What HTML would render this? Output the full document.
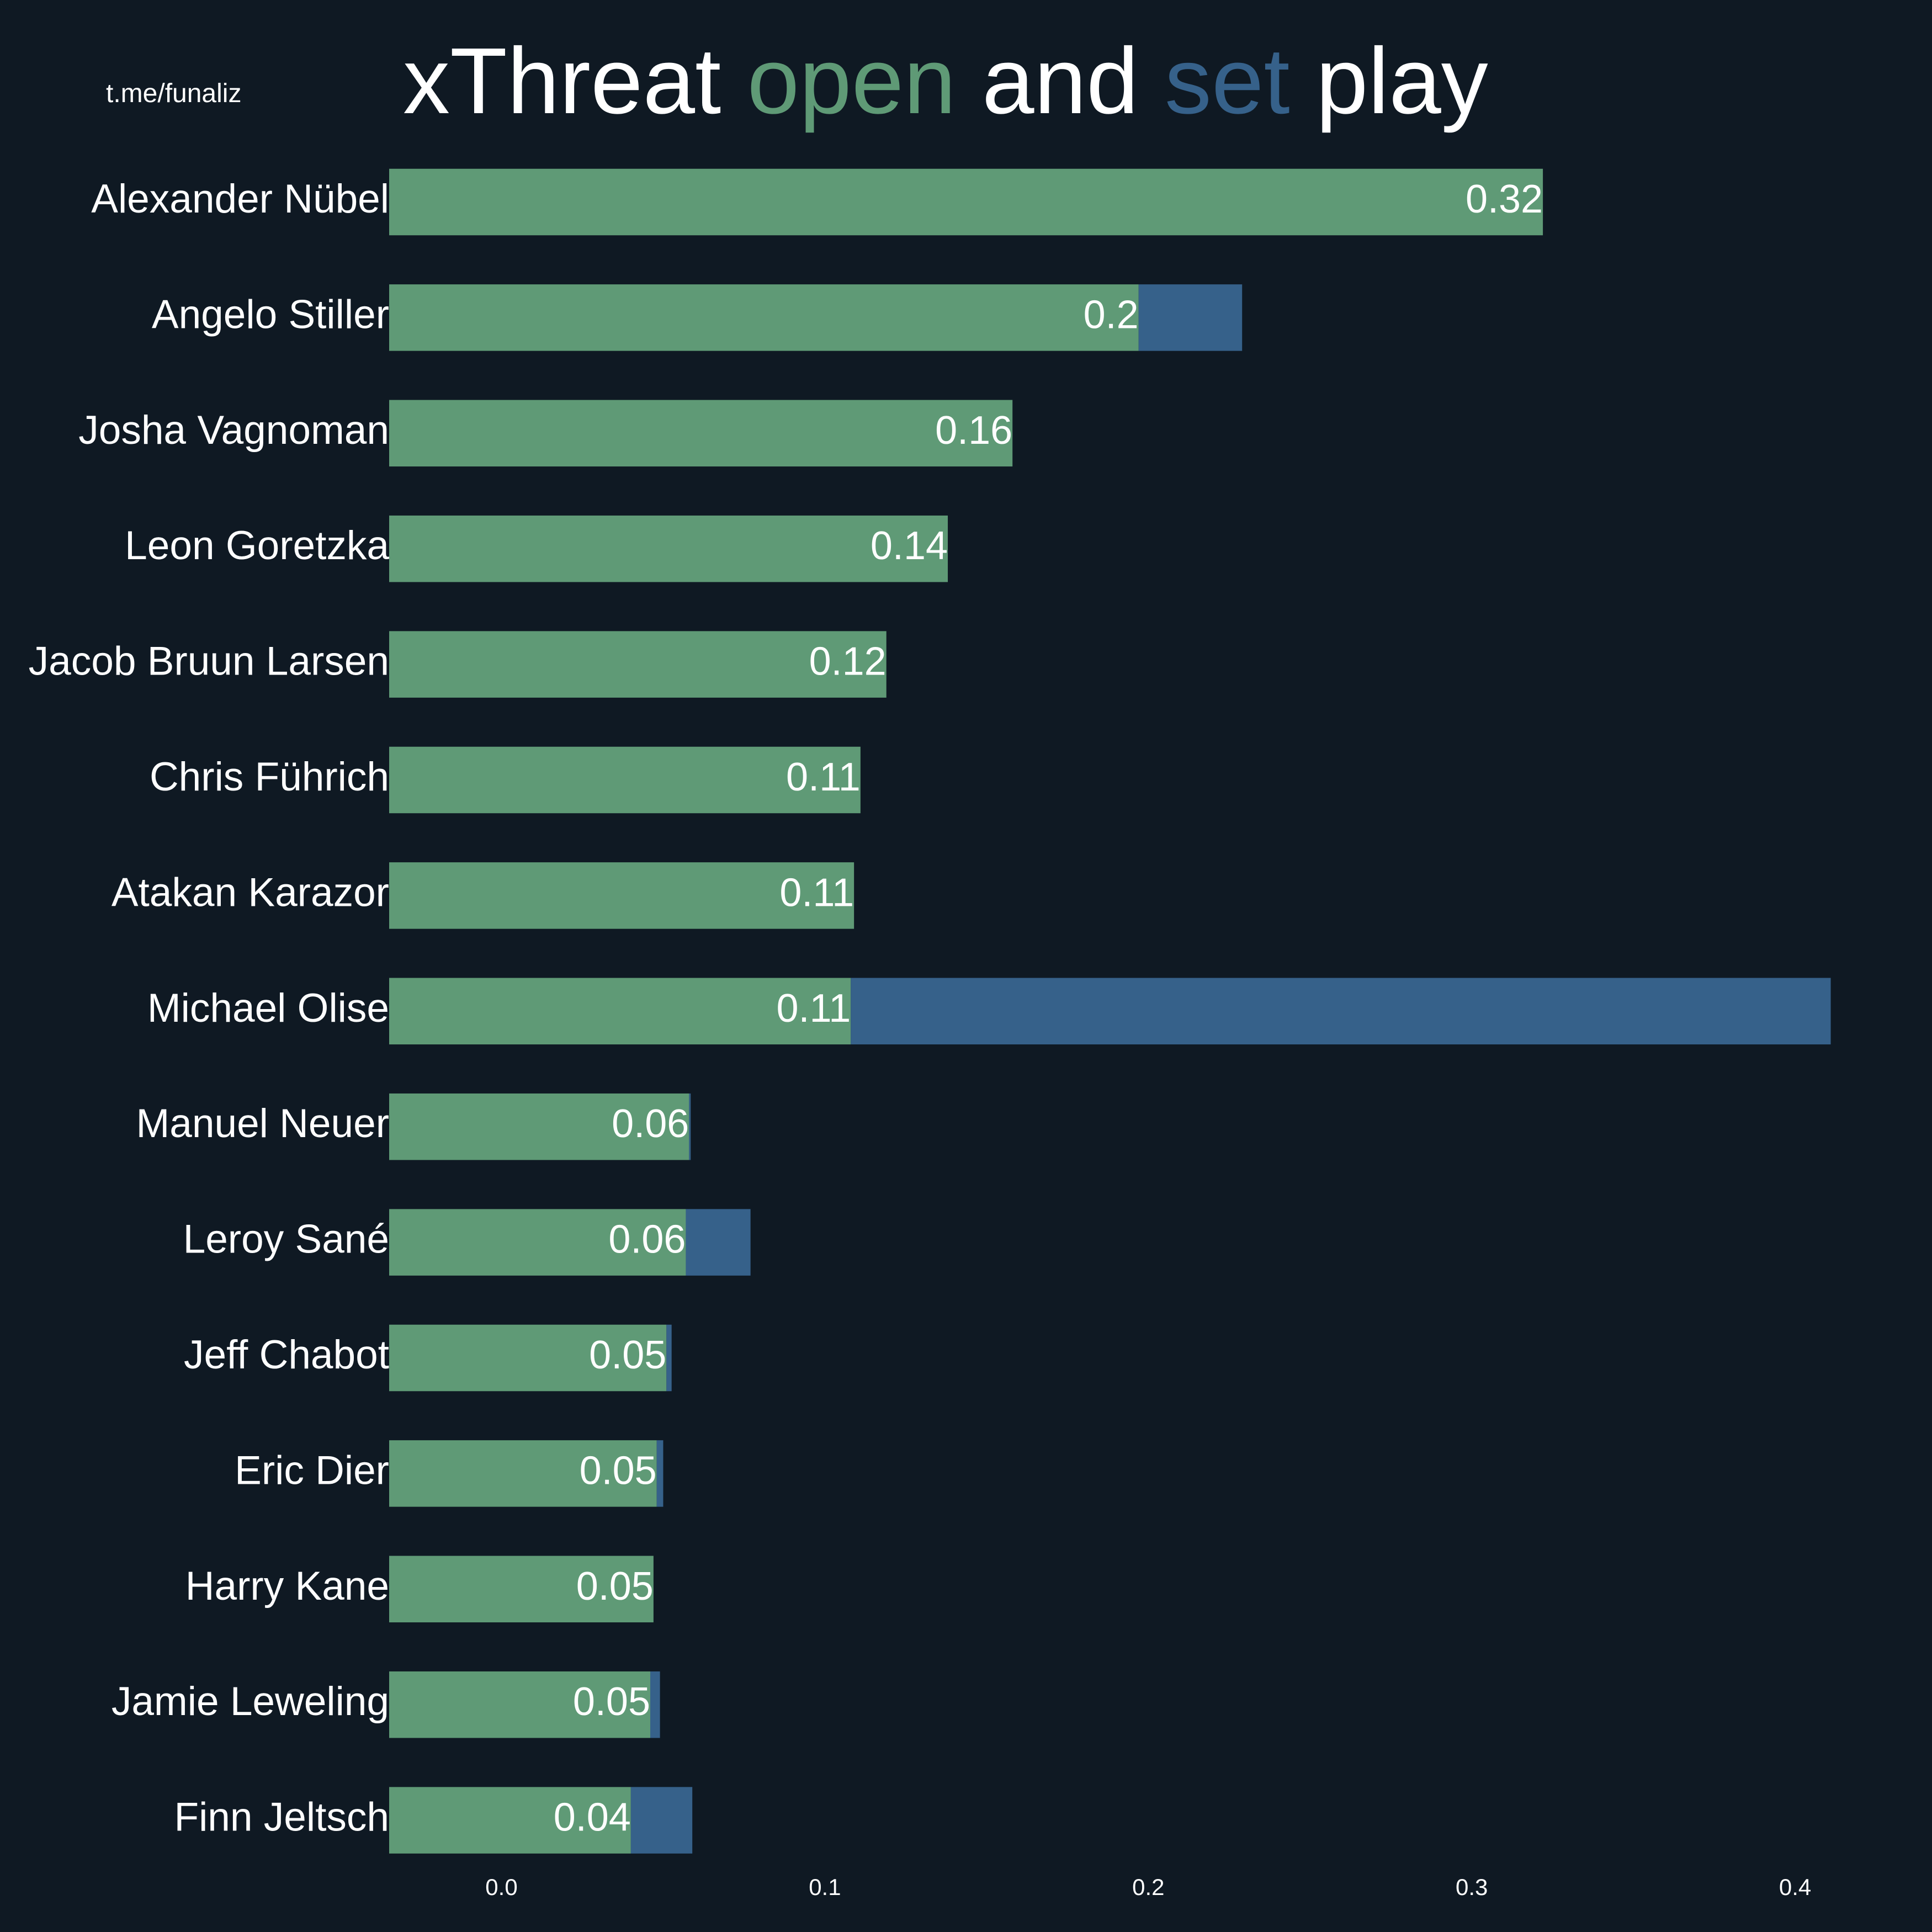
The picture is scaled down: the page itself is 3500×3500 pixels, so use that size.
<!DOCTYPE html>
<html><head><meta charset="utf-8">
<style>
html,body{margin:0;padding:0;background:#0f1923;}
svg{display:block;font-family:"Liberation Sans",Arial,sans-serif;}
</style></head>
<body>
<svg id="chart" width="3500" height="3500" viewBox="0 0 3500 3500" xmlns="http://www.w3.org/2000/svg">
<rect x="0" y="0" width="3500" height="3500" fill="#0f1923"/>
<text x="192" y="185" font-size="48" fill="#ffffff">t.me/funaliz</text>
<text x="730" y="205" font-size="170" fill="#ffffff">xThreat <tspan fill="#5f9a76">open</tspan> and <tspan fill="#36618a">set</tspan> play</text>
<g id="bars"></g>
<g id="xaxis"></g>
</svg>
<script>
const players = ["Alexander Nübel","Angelo Stiller","Josha Vagnoman","Leon Goretzka","Jacob Bruun Larsen","Chris Führich","Atakan Karazor","Michael Olise","Manuel Neuer","Leroy Sané","Jeff Chabot","Eric Dier","Harry Kane","Jamie Leweling","Finn Jeltsch"];
const openPlay = [0.322,0.197,0.158,0.138,0.119,0.111,0.109,0.108,0.058,0.057,0.051,0.048,0.047,0.046,0.040];
const setPlay = [0.000,0.032,0.000,0.000,0.000,0.000,0.000,0.303,0.0005,0.020,0.0016,0.002,0.000,0.003,0.019];
const xTicks = [0.0,0.1,0.2,0.3,0.4];
const xTickLabels = ["0.0","0.1","0.2","0.3","0.4"];

const NS = "http://www.w3.org/2000/svg";
const x = v => 908.5 + v * 5859;
const xMinPx = 705;
const rowY = i => 366 + i * 209.4;
const barH = 120.5;
const bars = document.getElementById('bars');
const axis = document.getElementById('xaxis');
function mk(tag, attrs, parent){const e=document.createElementNS(NS,tag);for(const k in attrs)e.setAttribute(k,attrs[k]);parent.appendChild(e);return e;}

players.forEach((name,i)=>{
  const cy=rowY(i);
  const xo=x(openPlay[i]);
  const r1=mk('rect',{x:xMinPx,y:cy-barH/2,width:Math.max(0,xo-xMinPx),height:barH,fill:'#5f9a76'},bars);
  
  
  const xs=x(openPlay[i]+setPlay[i]);
  if(setPlay[i]>0){
    const r2=mk('rect',{x:xo,y:cy-barH/2,width:Math.max(0,xs-xo),height:barH,fill:'#36618a'},bars);
    
    
  }
  const lab=mk('text',{x:705,y:cy+19,'font-size':73,fill:'#ffffff','text-anchor':'end'},bars);
  lab.textContent=name;
  
  
  const val=mk('text',{x:xo,y:cy+19,'font-size':72,fill:'#ffffff','text-anchor':'end'},bars);
  val.textContent=String(Number(openPlay[i].toFixed(2)));
  
  
});
xTicks.forEach((t,i)=>{
  const tx=mk('text',{x:x(t),y:3433,'font-size':42,fill:'#ffffff','text-anchor':'middle'},axis);
  tx.textContent=xTickLabels[i];
  
  
});
</script>
</body></html>
